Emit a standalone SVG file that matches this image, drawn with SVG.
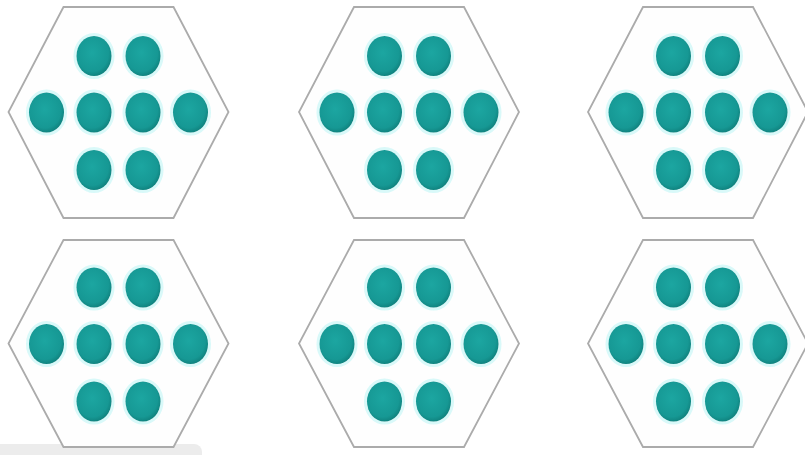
<svg xmlns="http://www.w3.org/2000/svg" xmlns:xlink="http://www.w3.org/1999/xlink" width="805" height="455" viewBox="0 0 805 455">
  <style>
    .hex { fill: #fefefe; stroke: #ababab; stroke-width: 1.8; stroke-linejoin: miter; }
    .dot { fill: url(#dotGrad); }
    .halo { fill: none; stroke: #c9f6f6; stroke-width: 3; opacity: 0.7; }
  </style>
  <defs>
    <radialGradient id="dotGrad" cx="45%" cy="42%" r="62%">
      <stop offset="0" stop-color="#1ca6a1"/>
      <stop offset="0.75" stop-color="#169894"/>
      <stop offset="1" stop-color="#0e7d79"/>
    </radialGradient>
    <g id="dots">
      <g>
        <ellipse class="halo" cx="-24.5" cy="-56" rx="19" ry="21.5"/>
        <ellipse class="halo" cx="24.5" cy="-56" rx="19" ry="21.5"/>
        <ellipse class="halo" cx="-72" cy="0.5" rx="19" ry="21.5"/>
        <ellipse class="halo" cx="-24.5" cy="0.5" rx="19" ry="21.5"/>
        <ellipse class="halo" cx="24.5" cy="0.5" rx="19" ry="21.5"/>
        <ellipse class="halo" cx="72" cy="0.5" rx="19" ry="21.5"/>
        <ellipse class="halo" cx="-24.5" cy="58" rx="19" ry="21.5"/>
        <ellipse class="halo" cx="24.5" cy="58" rx="19" ry="21.5"/>
      </g>
      <ellipse class="dot" cx="-24.5" cy="-56" rx="17.5" ry="20"/>
      <ellipse class="dot" cx="24.5" cy="-56" rx="17.5" ry="20"/>
      <ellipse class="dot" cx="-72" cy="0.5" rx="17.5" ry="20"/>
      <ellipse class="dot" cx="-24.5" cy="0.5" rx="17.5" ry="20"/>
      <ellipse class="dot" cx="24.5" cy="0.5" rx="17.5" ry="20"/>
      <ellipse class="dot" cx="72" cy="0.5" rx="17.5" ry="20"/>
      <ellipse class="dot" cx="-24.5" cy="58" rx="17.5" ry="20"/>
      <ellipse class="dot" cx="24.5" cy="58" rx="17.5" ry="20"/>
    </g>
  </defs>
  <rect width="805" height="455" fill="#ffffff"/>
  <path d="M0,444 H194 A8,8 0 0 1 202,452 V455 H0 Z" fill="#ececec"/>

  <g id="hex-1">
    <polygon class="hex" points="63.5,7 173.5,7 228.5,112 173.5,218 63.5,218 8.5,112"/>
    <use xlink:href="#dots" href="#dots" x="118.5" y="112"/>
  </g>
  <g id="hex-2">
    <polygon class="hex" points="354,7 464,7 519,112 464,218 354,218 299,112"/>
    <use xlink:href="#dots" href="#dots" x="409" y="112"/>
  </g>
  <g id="hex-3">
    <polygon class="hex" points="643,7 753,7 808,112 753,218 643,218 588,112"/>
    <use xlink:href="#dots" href="#dots" x="698" y="112"/>
  </g>
  <g id="hex-4">
    <polygon class="hex" points="63.5,240 173.5,240 228.5,343.5 173.5,447 63.5,447 8.5,343.5"/>
    <use xlink:href="#dots" href="#dots" x="118.5" y="343.5"/>
  </g>
  <g id="hex-5">
    <polygon class="hex" points="354,240 464,240 519,343.5 464,447 354,447 299,343.5"/>
    <use xlink:href="#dots" href="#dots" x="409" y="343.5"/>
  </g>
  <g id="hex-6">
    <polygon class="hex" points="643,240 753,240 808,343.5 753,447 643,447 588,343.5"/>
    <use xlink:href="#dots" href="#dots" x="698" y="343.5"/>
  </g>
  <g id="connectors"/>
</svg>
